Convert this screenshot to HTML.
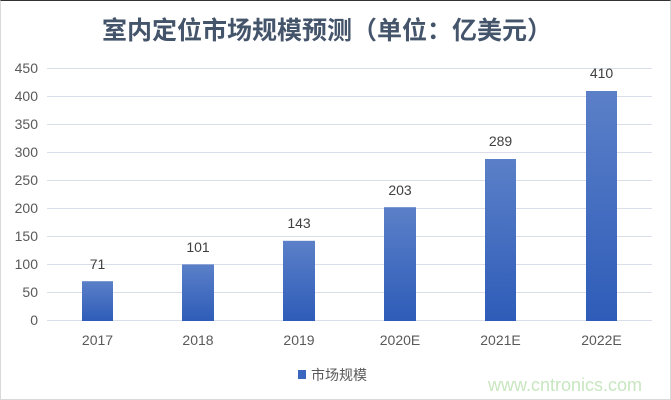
<!DOCTYPE html>
<html><head><meta charset="utf-8"><style>
body{margin:0;background:#fff}
#c{position:relative;width:669px;height:398px;border:1px solid #d9d9d9;border-top:1px solid #333;overflow:hidden;font-family:"Liberation Sans","Noto Sans CJK SC",sans-serif}
</style></head><body><div id="c">
<svg width="671" height="400" style="position:absolute;left:-1px;top:-1px" font-family="Liberation Sans, Noto Sans CJK SC, sans-serif">
<defs><linearGradient id="g" x1="0" y1="0" x2="0" y2="1"><stop offset="0" stop-color="#5b80c8"/><stop offset="1" stop-color="#2e5cb8"/></linearGradient></defs>
<text x="327" y="39" text-anchor="middle" font-size="25" font-weight="bold" fill="#44546a">室内定位市场规模预测（单位：亿美元）</text>
<g stroke="#d9dee8" stroke-width="1">
<line x1="47" x2="652" y1="68.5" y2="68.5"/><line x1="47" x2="652" y1="96.5" y2="96.5"/><line x1="47" x2="652" y1="124.5" y2="124.5"/><line x1="47" x2="652" y1="152.5" y2="152.5"/><line x1="47" x2="652" y1="180.5" y2="180.5"/><line x1="47" x2="652" y1="208.5" y2="208.5"/><line x1="47" x2="652" y1="236.5" y2="236.5"/><line x1="47" x2="652" y1="264.5" y2="264.5"/><line x1="47" x2="652" y1="292.5" y2="292.5"/><line x1="47" x2="652" y1="320.5" y2="320.5"/>
</g>
<g font-size="14" fill="#595959" text-anchor="end">
<text x="38" y="73">450</text><text x="38" y="101">400</text><text x="38" y="129">350</text><text x="38" y="157">300</text><text x="38" y="185">250</text><text x="38" y="213">200</text><text x="38" y="241">150</text><text x="38" y="269">100</text><text x="38" y="297">50</text><text x="38" y="325">0</text>
</g>
<g fill="url(#g)">
<rect x="82" y="281.2" width="31" height="39.8"/>
<rect x="182" y="264.4" width="32" height="56.6"/>
<rect x="283" y="240.8" width="32" height="80.2"/>
<rect x="384" y="207.2" width="32" height="113.8"/>
<rect x="485" y="159" width="31" height="162"/>
<rect x="586" y="91" width="31" height="230"/>
</g>
<g font-size="14" fill="#404040" text-anchor="middle">
<text x="97.5" y="269">71</text><text x="198" y="252">101</text><text x="299" y="228">143</text><text x="400" y="195">203</text><text x="500.5" y="146">289</text><text x="601.5" y="78">410</text>
</g>
<g font-size="14" fill="#595959" text-anchor="middle">
<text x="97.5" y="345">2017</text><text x="198" y="345">2018</text><text x="299" y="345">2019</text><text x="400" y="345">2020E</text><text x="500.5" y="345">2021E</text><text x="601.5" y="345">2022E</text>
</g>
<rect x="298" y="370" width="8" height="9" fill="#3a66c0"/>
<text x="311" y="380" font-size="14" fill="#595959">市场规模</text>
<text x="488" y="391" font-size="18" fill="#c8e6c0">www.cntronics.com</text>
</svg></div></body></html>
